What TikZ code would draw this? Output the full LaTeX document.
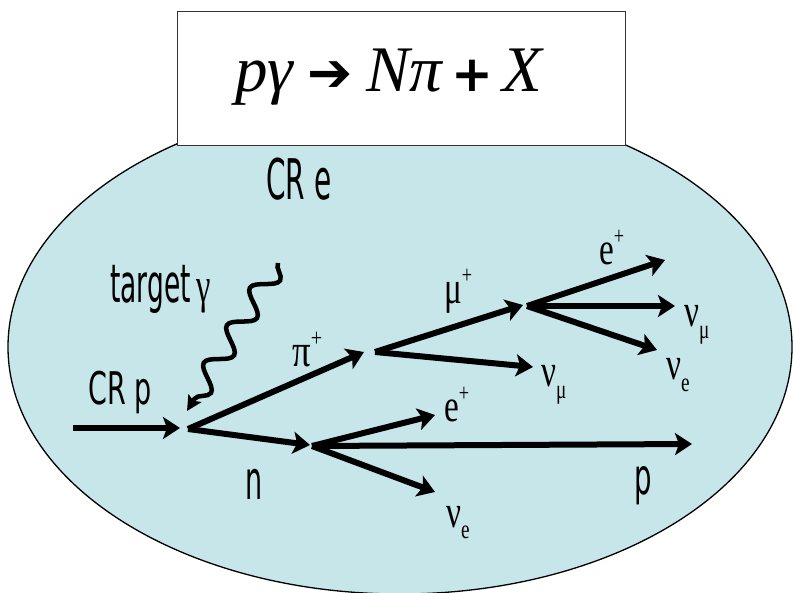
\documentclass[tikz,border=0pt]{standalone}
\usepackage{fontspec}
\setmainfont{Liberation Serif}
\newfontfamily\labfont{DejaVu Sans}
\newfontfamily\grkfont{Liberation Serif}
\newfontfamily\arrfont{DejaVu Sans}
\usetikzlibrary{arrows.meta,decorations.pathmorphing}
\definecolor{crfill}{RGB}{198,230,234}
\newcommand{\supp}{\raisebox{20pt}{\scalebox{0.55}{+}}}
\newcommand{\subb}[1]{\raisebox{-12pt}{\scalebox{0.58}{#1}}}
\begin{document}
\begin{tikzpicture}[x=1pt,y=-1pt,
  ar/.style={line width=6pt,-{Stealth[length=17pt,width=22pt,inset=4pt]}},
  wave/.style={line width=4.5pt,decorate,decoration={snake,segment length=44pt,amplitude=11pt,post length=12pt},-{Stealth[length=15pt,width=15pt,inset=3pt]}},
  sans/.style={inner sep=0pt,anchor=base west},
  grk/.style={inner sep=0pt,anchor=base west,font=\grkfont\fontsize{46}{50}\selectfont},
]
\useasboundingbox (0,0) rectangle (793,593);
\fill[white] (0,0) rectangle (793,593);
\draw[fill=crfill,line width=1.3pt] (400,347) ellipse [x radius=392pt,y radius=247pt];
\node[draw=black!80,fill=white,line width=0.8pt,minimum width=448pt,minimum height=134pt,inner sep=0pt] (titlebox) at (401,78) {};
\node[inner sep=0pt,anchor=base] (eq) at (388.5,92) {\fontsize{65}{70}\selectfont\itshape pγ\hspace{14pt}{\arrfont\upshape\fontsize{54}{50}\selectfont ➔}\hspace{14pt}Nπ\hspace{9pt}{\arrfont\upshape\bfseries\fontsize{50}{50}\selectfont +}\hspace{9pt}X};
% labels
\node[sans,font=\labfont\fontsize{56}{60}\selectfont] (cre) at (266,200) {\scalebox{0.5}[1]{CR e}};
\node[sans,font=\labfont\fontsize{45}{50}\selectfont] (crp) at (88,405) {\scalebox{0.6}[1]{CR p}};
\node[sans,font=\labfont\fontsize{53}{56}\selectfont] (tg) at (110,303) {\scalebox{0.5}[1]{target}\hspace{6pt}\scalebox{0.65}[1]{\grkfont\fontsize{50}{50}\selectfont γ}};
\node[sans,font=\labfont\fontsize{54}{60}\selectfont] (nl) at (245,500) {\scalebox{0.5}[1]{n}};
\node[sans,font=\labfont\fontsize{50}{56}\selectfont] (pl) at (634,495) {\scalebox{0.55}[1]{p}};
\node[grk] (pil) at (292,367) {\scalebox{0.8}[1]{π\supp}};
\node[grk] (mul) at (444,304) {\scalebox{0.72}[1]{μ\supp}};
\node[grk] (e1) at (599,265) {\scalebox{0.72}[1]{e\supp}};
\node[grk] (nm1) at (684,327) {\scalebox{0.72}[1]{ν\subb{μ}}};
\node[grk] (ne1) at (666,380) {\scalebox{0.72}[1]{ν\subb{e}}};
\node[grk] (nm2) at (541,387) {\scalebox{0.72}[1]{ν\subb{μ}}};
\node[grk] (e2) at (444,422) {\scalebox{0.72}[1]{e\supp}};
\node[grk] (ne2) at (446,527) {\scalebox{0.72}[1]{ν\subb{e}}};
% points
\coordinate (s0) at (73,428);
\coordinate (cpT) at (180,428);
\coordinate (A) at (188,429);
\coordinate (piT) at (364,352);
\coordinate (B) at (375,352);
\coordinate (nT) at (310,445);
\coordinate (D) at (312,446);
\coordinate (muT) at (523,305);
\coordinate (C) at (527,306);
\coordinate (nmT) at (533,367);
\coordinate (e1T) at (665,260);
\coordinate (nm1T) at (675,306);
\coordinate (ne1T) at (657,350);
\coordinate (e2T) at (435,415);
\coordinate (pT) at (692,444);
\coordinate (ne2T) at (435,492);
\coordinate (gS) at (278,263);
\coordinate (gE) at (187,411);
% arrows
\draw[ar] (s0) -- (cpT);
\draw[ar] (A) -- (piT);
\draw[ar] (A) -- (nT);
\draw[ar] (B) -- (muT);
\draw[ar] (B) -- (nmT);
\draw[ar] (C) -- (e1T);
\draw[ar] (C) -- (nm1T);
\draw[ar] (C) -- (ne1T);
\draw[ar] (D) -- (e2T);
\draw[ar] (D) -- (pT);
\draw[ar] (D) -- (ne2T);
\draw[wave] (gS) -- (gE);
\end{tikzpicture}
\end{document}
